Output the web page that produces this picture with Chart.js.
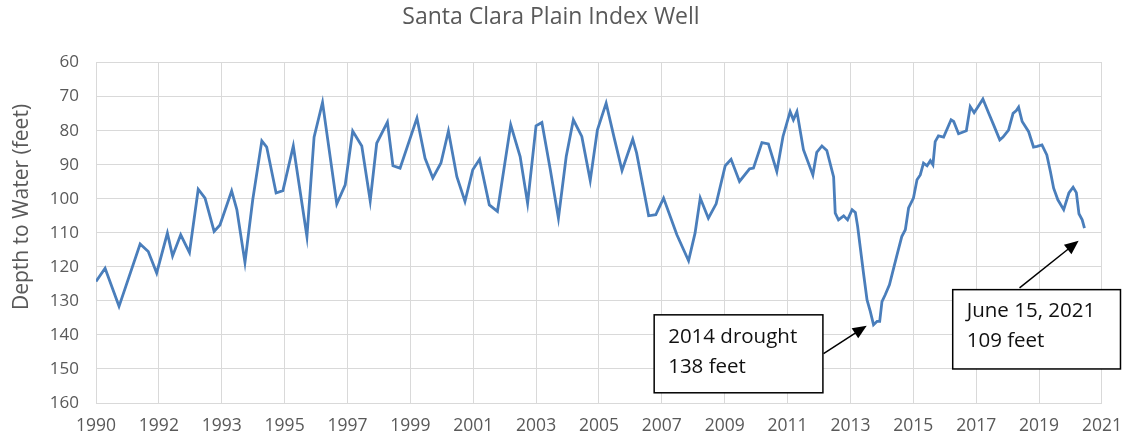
<!DOCTYPE html>
<html lang="en">
<head>
<meta charset="UTF-8">
<title>Santa Clara Plain Index Well</title>
<script src="https://cdn.jsdelivr.net/npm/chart.js"></script>
<style>
    body { margin: 0; background: #fff; }
</style>
</head>
<body>
<canvas id="wellChart" width="1135" height="440"></canvas>
<script>
// readings (decimal position on the time axis) and depth to water in feet
const years = [
    1990.00, 1990.28, 1990.71, 1991.36, 1991.61, 1991.87, 1992.20, 1992.36, 1992.61, 1992.88,
    1993.15, 1993.36, 1993.64, 1993.82, 1994.18, 1994.34, 1994.59, 1994.83, 1995.11, 1995.26,
    1995.55, 1995.76, 1996.08, 1996.50, 1996.72, 1996.98, 1997.42, 1997.68, 1997.91, 1998.19,
    1998.45, 1998.65, 1998.98, 1999.15, 1999.37, 1999.89, 2000.14, 2000.38, 2000.63, 2000.86,
    2001.12, 2001.37, 2001.61, 2001.82, 2002.12, 2002.37, 2002.78, 2003.07, 2003.30, 2003.56,
    2003.74, 2004.00, 2004.25, 2004.49, 2004.71, 2004.97, 2005.23, 2005.45, 2005.72, 2005.97,
    2006.21, 2006.54, 2006.66, 2007.03, 2007.25, 2007.49, 2007.90, 2008.26, 2008.46, 2008.62,
    2008.87, 2009.11, 2009.39, 2009.57, 2009.83, 2010.14, 2010.26, 2010.52, 2010.72, 2010.98,
    2011.17, 2011.39, 2011.49, 2011.60, 2011.80, 2012.09, 2012.21, 2012.37, 2012.52, 2012.73,
    2012.78, 2012.88, 2013.04, 2013.16, 2013.30, 2013.40, 2013.47, 2013.65, 2013.76, 2013.86,
    2013.96, 2014.07, 2014.15, 2014.22, 2014.32, 2014.45, 2014.58, 2014.67, 2014.83, 2014.94,
    2015.04, 2015.19, 2015.30, 2015.40, 2015.50, 2015.61, 2015.71, 2015.79, 2015.86, 2015.96,
    2016.12, 2016.35, 2016.43, 2016.58, 2016.82, 2016.94, 2017.06, 2017.17, 2017.33, 2017.51,
    2017.66, 2017.85, 2017.95, 2018.12, 2018.26, 2018.36, 2018.43, 2018.54, 2018.74, 2018.89,
    2019.00, 2019.15, 2019.30, 2019.41, 2019.51, 2019.64, 2019.82, 2019.98, 2020.11, 2020.21,
    2020.29, 2020.39, 2020.46
];
const depth = [
    124.3, 120.4, 131.6, 113.3, 115.5, 121.8, 110.1, 116.8, 110.6, 115.8,
    97.2, 99.8, 109.6, 107.7, 97.7, 103.2, 118.7, 100.3, 83.0, 84.8,
    98.3, 97.6, 84.5, 111.1, 81.9, 71.7, 101.5, 95.9, 80.1, 84.5,
    100.6, 83.7, 77.5, 90.3, 91.0, 76.3, 88.1, 93.9, 89.5, 80.1,
    93.5, 100.8, 91.5, 88.4, 101.8, 103.7, 78.3, 87.6, 101.3, 78.6,
    77.6, 91.5, 105.7, 87.6, 76.8, 81.7, 94.6, 79.8, 71.9, 82.2,
    91.7, 82.5, 86.6, 105.0, 104.7, 99.8, 110.6, 118.2, 110.1, 99.8,
    105.7, 101.5, 90.3, 88.4, 94.9, 91.2, 91.0, 83.5, 83.9, 92.0,
    81.7, 74.4, 76.8, 74.4, 85.6, 93.0, 86.4, 84.5, 85.8, 93.6,
    104.2, 106.2, 105.0, 106.2, 103.2, 104.0, 108.1, 121.8, 129.7, 133.1,
    137.0, 136.0, 136.0, 130.2, 128.2, 125.3, 120.4, 117.0, 111.1, 109.1,
    102.7, 99.8, 94.4, 93.0, 89.5, 90.3, 88.8, 90.0, 83.2, 81.5,
    81.9, 76.8, 77.3, 80.9, 80.0, 72.9, 74.7, 73.1, 70.7, 74.9,
    78.3, 82.7, 81.9, 79.8, 74.9, 74.1, 73.1, 77.3, 80.3, 84.8,
    84.6, 84.2, 87.1, 92.0, 96.9, 100.3, 103.2, 98.3, 96.6, 98.2,
    104.4, 106.2, 108.6
];
const tickLabels = ['1990', '1992', '1993', '1995', '1997', '1999', '2001', '2003', '2005',
    '2007', '2009', '2011', '2013', '2015', '2017', '2019', '2021'];

// callouts, placed in axis units
const notes = [
    { lines: ['2014 drought', '138 feet'], box: [2007.2, 134.1, 2012.4, 157.0], from: [2012.42, 145.5], to: [2013.75, 137.3] },
    { lines: ['June 15, 2021', '109 feet'], box: [2016.4, 126.7, 2021.57, 150.0], from: [2018.46, 126.2], to: [2020.28, 112.35] }
];

const FONT = '"Open Sans", "DejaVu Sans", sans-serif';
const GREY = '#595959';

const overlay = {
    id: 'overlay',
    afterDraw(chart) {
        const ctx = chart.ctx;
        const x = chart.scales.x, y = chart.scales.y;
        ctx.save();

        // y axis title
        ctx.save();
        ctx.translate(22, 207);
        ctx.rotate(-Math.PI / 2);
        ctx.fillStyle = GREY;
        ctx.font = '21px ' + FONT;
        ctx.textAlign = 'center';
        ctx.textBaseline = 'middle';
        ctx.fillText('Depth to Water (feet)', 0, 0);
        ctx.restore();

        notes.forEach(n => {
            // arrow
            const x1 = x.getPixelForValue(n.from[0]), y1 = y.getPixelForValue(n.from[1]);
            const x2 = x.getPixelForValue(n.to[0]), y2 = y.getPixelForValue(n.to[1]);
            const a = Math.atan2(y2 - y1, x2 - x1);
            ctx.strokeStyle = '#000';
            ctx.fillStyle = '#000';
            ctx.lineWidth = 1.5;
            ctx.beginPath();
            ctx.moveTo(x1, y1);
            ctx.lineTo(x2 - 10 * Math.cos(a), y2 - 10 * Math.sin(a));
            ctx.stroke();
            ctx.beginPath();
            ctx.moveTo(x2, y2);
            ctx.lineTo(x2 - 14 * Math.cos(a) + 6 * Math.sin(a), y2 - 14 * Math.sin(a) - 6 * Math.cos(a));
            ctx.lineTo(x2 - 14 * Math.cos(a) - 6 * Math.sin(a), y2 - 14 * Math.sin(a) + 6 * Math.cos(a));
            ctx.closePath();
            ctx.fill();

            // box
            const bl = x.getPixelForValue(n.box[0]), bt = y.getPixelForValue(n.box[1]);
            const br = x.getPixelForValue(n.box[2]), bb = y.getPixelForValue(n.box[3]);
            ctx.fillStyle = '#fff';
            ctx.fillRect(bl, bt, br - bl, bb - bt);
            ctx.lineWidth = 1.5;
            ctx.strokeRect(bl, bt, br - bl, bb - bt);
            ctx.fillStyle = '#111';
            ctx.font = '20.5px ' + FONT;
            ctx.textAlign = 'left';
            ctx.textBaseline = 'middle';
            n.lines.forEach((t, i) => ctx.fillText(t, bl + 14, bt + 22 + i * 30));
        });
        ctx.restore();
    }
};

new Chart(document.getElementById('wellChart'), {
    type: 'line',
    data: {
        datasets: [{
            data: years.map((yr, i) => ({ x: yr, y: depth[i] })),
            borderColor: '#4a7ebb',
            borderWidth: 2.8,
            pointRadius: 0,
            tension: 0,
            fill: false
        }]
    },
    options: {
        responsive: false,
        animation: false,
        events: [],
        layout: { padding: { left: 0, right: 33, top: 0, bottom: 0 } },
        plugins: {
            legend: { display: false },
            tooltip: { enabled: false },
            title: {
                display: true,
                text: 'Santa Clara Plain Index Well',
                color: GREY,
                font: { family: FONT, size: 23, weight: 'normal' },
                padding: { top: 4, bottom: 31 }
            }
        },
        scales: {
            x: {
                type: 'linear',
                min: 1990,
                max: 2021,
                afterBuildTicks: scale => {
                    scale.ticks = tickLabels.map((_, i) => ({ value: 1990 + i * 31 / (tickLabels.length - 1) }));
                },
                afterFit: scale => { scale.height = 37; },
                grid: { color: '#d9d9d9', drawTicks: false },
                border: { color: '#d9d9d9' },
                ticks: {
                    color: GREY,
                    font: { family: FONT, size: 17.5 },
                    padding: 13,
                    maxRotation: 0,
                    autoSkip: false,
                    callback: (v, i) => tickLabels[i]
                }
            },
            y: {
                reverse: true,
                min: 60,
                max: 160,
                afterFit: scale => { scale.width = 96; },
                grid: { color: '#d9d9d9', drawTicks: false },
                border: { color: '#d9d9d9' },
                ticks: {
                    stepSize: 10,
                    color: GREY,
                    font: { family: FONT, size: 17 },
                    padding: 17
                }
            }
        }
    },
    plugins: [overlay]
});
</script>
</body>
</html>
